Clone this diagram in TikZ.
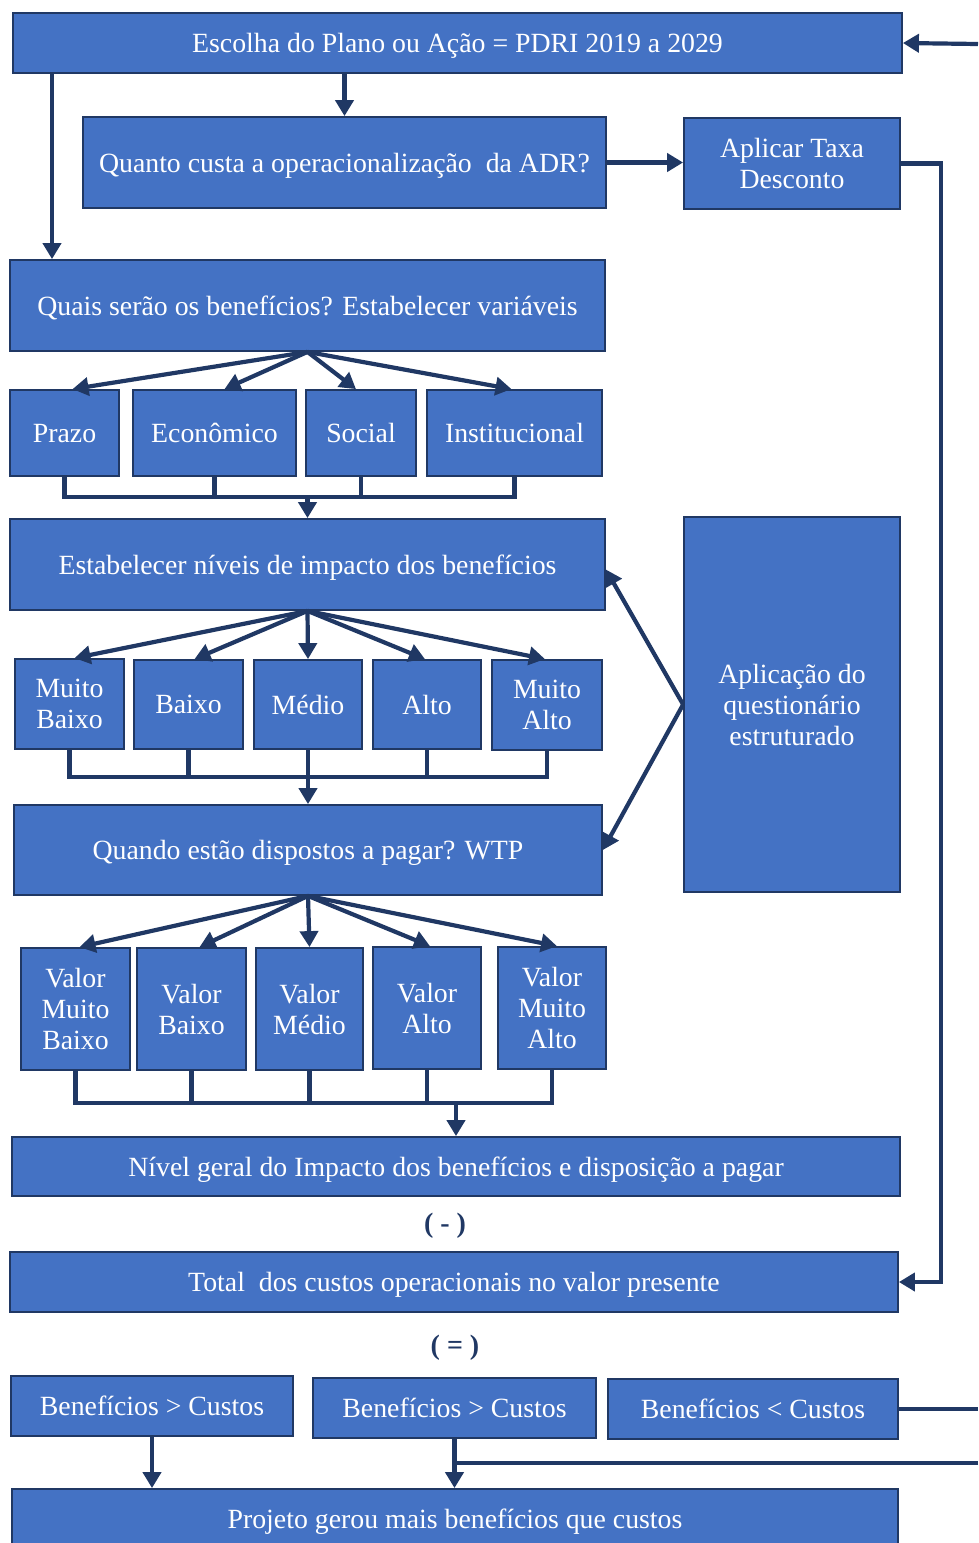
\documentclass[tikz,border=0pt]{standalone}
\usepackage{fontspec}
\setmainfont{Liberation Serif}
\usetikzlibrary{arrows.meta}
\definecolor{boxfill}{HTML}{4472C4}
\definecolor{navy}{HTML}{203864}
\tikzset{
  box/.style={draw=navy, fill=boxfill, line width=1.8pt, text=white,
    font=\fontsize{27.8}{31}\selectfont, align=center, inner sep=0pt,
    text depth=0pt},
  link/.style={draw=navy, line width=4.2pt},
  arr/.style={link, -{Triangle[length=16pt,width=18pt]}},
  sign/.style={text=navy, font=\fontsize{28}{32}\selectfont\bfseries}
}
\begin{document}
\begin{tikzpicture}[x=1pt,y=-1pt]
\useasboundingbox (0,0) rectangle (978,1543);
\clip (0,0) rectangle (978,1543);

% boxes, top to bottom
\node[box, minimum width=889, minimum height=60] (top) at (457.5,43) {Escolha do Plano ou Ação = PDRI 2019 a 2029};
\node[box, minimum width=523, minimum height=91] (cost) at (344.5,162.5) {Quanto custa a operacionalização~ da ADR?};
\node[box, minimum width=216, minimum height=91] (taxa) at (792,163.5) {Aplicar Taxa\\Desconto};
\node[box, minimum width=595, minimum height=91] (quais) at (307.5,305.5) {Quais serão os benefícios? Estabelecer variáveis};

\node[box, minimum width=109, minimum height=86] (prazo) at (64.5,433) {Prazo};
\node[box, minimum width=163, minimum height=86] (econ) at (214.5,433) {Econômico};
\node[box, minimum width=110, minimum height=86] (social) at (361,433) {Social};
\node[box, minimum width=175, minimum height=86] (inst) at (514.5,433) {Institucional};

\node[box, minimum width=595, minimum height=91] (niveis) at (307.5,564.5) {Estabelecer níveis de impacto dos benefícios};

\node[box, minimum width=109, minimum height=90] (mb) at (69.5,704) {Muito\\Baixo};
\node[box, minimum width=109, minimum height=89] (b) at (188.5,704.5) {Baixo};
\node[box, minimum width=108, minimum height=89] (m) at (308,704.5) {Médio};
\node[box, minimum width=108, minimum height=89] (a) at (427,704.5) {Alto};
\node[box, minimum width=110, minimum height=90] (ma) at (547,705) {Muito\\Alto};

\node[box, minimum width=588, minimum height=90] (wtp) at (308,850) {Quando estão dispostos a pagar? WTP};
\node[box, minimum width=216, minimum height=375] (quest) at (792,704.5) {Aplicação do\\questionário\\estruturado};

\node[box, minimum width=109, minimum height=122] (vmb) at (75.5,1009) {Valor\\Muito\\Baixo};
\node[box, minimum width=109, minimum height=122] (vb) at (191.5,1009) {Valor\\Baixo};
\node[box, minimum width=107, minimum height=122] (vm) at (309.5,1009) {Valor\\Médio};
\node[box, minimum width=108, minimum height=122] (va) at (427,1008) {Valor\\Alto};
\node[box, minimum width=108, minimum height=122] (vma) at (552,1008) {Valor\\Muito\\Alto};

\node[box, minimum width=888, minimum height=59] (geral) at (456,1166.5) {Nível geral do Impacto dos benefícios e disposição a pagar};
\node[sign] (menos) at (445,1226) {( - )};
\node[box, minimum width=888, minimum height=60] (total) at (454,1282) {Total~ dos custos operacionais no valor presente};
\node[sign] (igual) at (455,1348) {( = )};

\node[box, minimum width=282, minimum height=60] (bc1) at (152,1406) {Benefícios > Custos};
\node[box, minimum width=283, minimum height=60] (bc2) at (454.5,1408) {Benefícios > Custos};
\node[box, minimum width=290, minimum height=60] (bc3) at (753,1409) {Benefícios < Custos};
\node[box, minimum width=886, minimum height=60] (proj) at (455,1519) {Projeto gerou mais benefícios que custos};

% free ends at the right margin
\coordinate (inTop) at (978,44);
\coordinate (outLess) at (978,1409);
\coordinate (inJoin) at (978,1463);
\coordinate (rail) at (941,0);

% top part
\draw[arr] (inTop) -- (top.east);
\draw[arr] (top.south -| cost.north) -- (cost.north);
\draw[arr] (top.south -| 52,0) -- (quais.north -| 52,0);
\draw[arr] (cost.east) -- (taxa.west |- cost.east);
\draw[arr] (taxa.east) -| (rail |- total.east) -- (total.east);

% variables
\draw[arr] (quais.south) -- ([xshift=8pt]prazo.north);
\draw[arr] (quais.south) -- ([xshift=10pt]econ.north);
\draw[arr] (quais.south) -- ([xshift=-5pt]social.north);
\draw[arr] (quais.south) -- ([xshift=-3pt]inst.north);
\coordinate (j1) at (0,497);
\draw[link] (prazo.south) -- (prazo.south |- j1) -- (inst.south |- j1) -- (inst.south);
\draw[link] (econ.south) -- (econ.south |- j1);
\draw[link] (social.south) -- (social.south |- j1);
\draw[arr] (niveis.north |- j1) -- (niveis.north);

% impact levels
\draw[arr] (niveis.south) -- ([xshift=5pt]mb.north);
\draw[arr] (niveis.south) -- ([xshift=6pt]b.north);
\draw[arr] (niveis.south) -- (m.north);
\draw[arr] (niveis.south) -- ([xshift=-2pt]a.north);
\draw[arr] (niveis.south) -- ([xshift=-2pt]ma.north);
\coordinate (j2) at (0,777);
\draw[link] (mb.south) -- (mb.south |- j2) -- (ma.south |- j2) -- (ma.south);
\draw[link] (b.south) -- (b.south |- j2);
\draw[link] (m.south) -- (m.south |- j2);
\draw[link] (a.south) -- (a.south |- j2);
\draw[arr] (wtp.north |- j2) -- (wtp.north);

% questionnaire
\draw[arr] (quest.west) -- ([yshift=-5pt]niveis.east);
\draw[arr] (quest.west) -- (wtp.east);

% willingness to pay
\draw[arr] (wtp.south) -- ([xshift=4pt]vmb.north);
\draw[arr] (wtp.south) -- ([xshift=8pt]vb.north);
\draw[arr] (wtp.south) -- (vm.north);
\draw[arr] (wtp.south) -- ([xshift=3pt]va.north);
\draw[arr] (wtp.south) -- ([xshift=5pt]vma.north);
\coordinate (j3) at (0,1103);
\draw[link] (vmb.south) -- (vmb.south |- j3) -- (vma.south |- j3) -- (vma.south);
\draw[link] (vb.south) -- (vb.south |- j3);
\draw[link] (vm.south) -- (vm.south |- j3);
\draw[link] (va.south) -- (va.south |- j3);
\draw[arr] (geral.north |- j3) -- (geral.north);

% results
\draw[link] (bc3.east) -- (outLess);
\draw[arr] (bc1.south) -- (bc1.south |- proj.north);
\draw[arr] (bc2.south) -- (bc2.south |- proj.north);
\draw[link] (inJoin) -- (bc2.south |- inJoin);
\end{tikzpicture}
\end{document}
